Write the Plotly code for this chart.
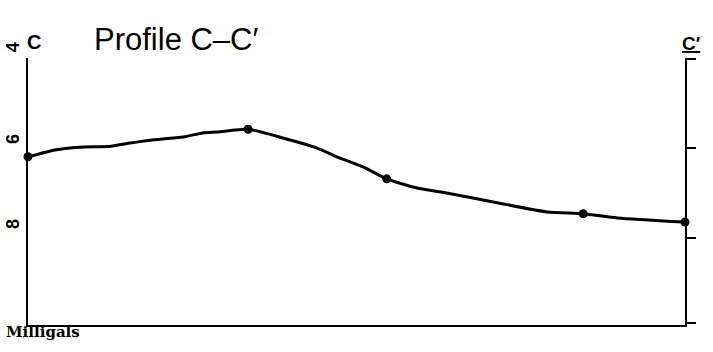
import plotly.graph_objects as go

# Profile line (distance along profile, % of length) and gravity (milligals, axis reads downward)
line_distance = [0, 4.1, 7.9, 12.6, 15.6, 18.6, 23.6, 26.6, 28.8, 33.5, 38.8, 44.0, 47.0,
                 51.0, 54.6, 59.2, 63.1, 71.4, 79.0, 84.5, 89.7, 100]
line_gravity = [6.43, 6.28, 6.22, 6.20, 6.13, 6.07, 6.00, 5.91, 5.89, 5.83, 6.02, 6.24, 6.43,
                6.65, 6.91, 7.11, 7.20, 7.43, 7.63, 7.67, 7.76, 7.85]

station_distance = [0, 33.5, 54.6, 84.5, 100]
station_gravity = [6.43, 5.83, 6.91, 7.67, 7.85]

left_tick_values = [4, 6, 8]
left_tick_labels = ["4", "6", "8"]
right_tick_values = [4.30, 6.24, 8.20, 10.05]

Y_RANGE = [10.09, 4.28]
W, H = 713, 352
ML, MR, MT, MB = 28, 28, 58, 27
PW, PH = W - ML - MR, H - MT - MB


def px_to_paper_x(px):
    return (px - ML) / PW


def px_to_paper_y(py):
    return (H - MB - py) / PH


def value_to_paper_y(v):
    return (v - Y_RANGE[0]) / (Y_RANGE[1] - Y_RANGE[0])


fig = go.Figure()
fig.add_trace(go.Scatter(x=line_distance, y=line_gravity, mode="lines",
                         line=dict(color="black", width=3, shape="spline", smoothing=0.6),
                         hoverinfo="skip", showlegend=False))
fig.add_trace(go.Scatter(x=station_distance, y=station_gravity, mode="markers",
                         marker=dict(color="black", size=9), cliponaxis=False,
                         showlegend=False))
fig.add_trace(go.Scatter(x=[None], y=[None], yaxis="y2", showlegend=False))

annotations = []
for v, t in zip(left_tick_values, left_tick_labels):
    annotations.append(dict(x=0, xref="paper", y=value_to_paper_y(v), yref="paper", text=t,
                            showarrow=False, xanchor="right", xshift=-3, yshift=5,
                            textangle=-90,
                            font=dict(family="Liberation Sans", size=18, color="black",
                                      weight="bold")))
annotations += [
    dict(x=px_to_paper_x(25), xref="paper", y=px_to_paper_y(42), yref="paper",
         text="<b>C</b>", showarrow=False, xanchor="left", yanchor="middle",
         font=dict(family="Liberation Sans", size=20, color="black")),
    dict(x=px_to_paper_x(680), xref="paper", y=px_to_paper_y(43), yref="paper",
         text="<b><u>C′</u></b>", showarrow=False, xanchor="left", yanchor="middle",
         font=dict(family="Liberation Sans", size=19, color="black")),
    dict(x=px_to_paper_x(92), xref="paper", y=px_to_paper_y(39), yref="paper",
         text="Profile C–C′", showarrow=False, xanchor="left", yanchor="middle",
         font=dict(family="Liberation Sans", size=31, color="black")),
    dict(x=px_to_paper_x(4), xref="paper", y=px_to_paper_y(332), yref="paper",
         text="<b>Milligals</b>", showarrow=False, xanchor="left", yanchor="middle",
         font=dict(family="DejaVu Serif", size=15, color="black")),
]

fig.update_layout(
    width=W, height=H,
    margin=dict(l=ML, r=MR, t=MT, b=MB),
    paper_bgcolor="white", plot_bgcolor="white",
    xaxis=dict(range=[0, 100], showline=True, linecolor="black", linewidth=2,
               showgrid=False, zeroline=False, showticklabels=False, ticks=""),
    yaxis=dict(range=Y_RANGE, showline=True, linecolor="black", linewidth=2,
               showgrid=False, zeroline=False, showticklabels=False, ticks=""),
    yaxis2=dict(range=Y_RANGE, overlaying="y", side="right", showline=True,
                linecolor="black", linewidth=2, showgrid=False, zeroline=False,
                tickvals=right_tick_values, ticks="outside", ticklen=9,
                tickwidth=2, tickcolor="black", showticklabels=False),
    annotations=annotations,
    font=dict(family="Liberation Sans", color="black"),
)

fig.write_html("out.html", config={"displayModeBar": False},
               post_script="document.body.style.margin='0';")
